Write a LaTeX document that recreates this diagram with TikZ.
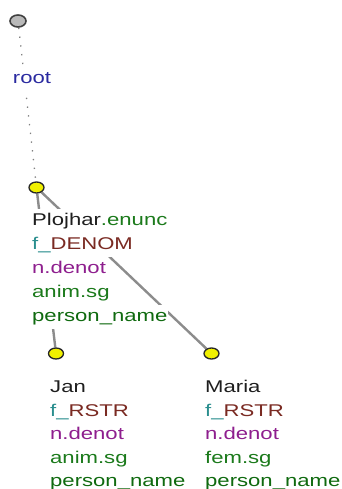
\documentclass[tikz,border=0pt]{standalone}
\usepackage{fontspec}
\newfontfamily\lbl{Liberation Sans}[FakeStretch=1.3]
\usetikzlibrary{shapes.geometric,backgrounds}
\definecolor{cblack}{HTML}{1E1E1E}
\definecolor{cgreen}{HTML}{1B7A1B}
\definecolor{cdgreen}{HTML}{0F6A0F}
\definecolor{cteal}{HTML}{2A8E8E}
\definecolor{cbrown}{HTML}{7A2A22}
\definecolor{cpurple}{HTML}{8E1E8E}
\definecolor{cblue}{HTML}{2A2AA0}
\definecolor{cyel}{HTML}{F0F000}
\definecolor{cedge}{HTML}{8C8C8C}
\begin{document}
\begin{tikzpicture}[x=1pt,y=-1pt,
  row/.style={anchor=base west, fill=white, inner xsep=1pt, inner ysep=0pt,
    text height=17pt, text depth=7pt, font=\lbl\fontsize{17}{20}\selectfont},
  ynode/.style={ellipse, draw=black!85, line width=1.3pt, fill=cyel,
    minimum width=15pt, minimum height=11pt, inner sep=0pt},
  rnode/.style={ellipse, draw=black!75, line width=1.6pt, fill=gray!55,
    minimum width=16pt, minimum height=12pt, inner sep=0pt},
  edge/.style={draw=cedge, line width=2.4pt},
  dotline/.style={draw=gray, line width=1.3pt, dash pattern=on 1.3pt off 7.5pt}
]
\useasboundingbox (0,0) rectangle (342,489);

% tree nodes
\node[rnode] (r) at (18,21) {};
\node[ynode] (pn) at (36.5,187.5) {};
\node[ynode] (jn) at (56,353.5) {};
\node[ynode] (mn) at (211.5,353.5) {};

% root label
\node[row, text=cblue] (rl) at (11.7,84) {root};

% Plojhar labels
\node[row] (p1) at (31,225.5) {{\color{cblack}Plojhar}{\color{cgreen}.enunc}};
\node[row] (p2) at (31,249.5) {{\color{cteal}f\_}{\color{cbrown}DENOM}};
\node[row, text=cpurple] (p3) at (31,273.5) {n.denot};
\node[row, text=cgreen] (p4) at (31,297.5) {anim.sg};
\node[row, text=cdgreen] (p5) at (31,321.5) {person\_name};

% Jan labels
\node[row, text=cblack] (j1) at (49,392.5) {Jan};
\node[row] (j2) at (49,416) {{\color{cteal}f\_}{\color{cbrown}RSTR}};
\node[row, text=cpurple] (j3) at (49,439.5) {n.denot};
\node[row, text=cgreen] (j4) at (49,463) {anim.sg};
\node[row, text=cdgreen] (j5) at (49,486.5) {person\_name};

% Maria labels
\node[row, text=cblack] (m1) at (204,392.5) {Maria};
\node[row] (m2) at (204,416) {{\color{cteal}f\_}{\color{cbrown}RSTR}};
\node[row, text=cpurple] (m3) at (204,439.5) {n.denot};
\node[row, text=cgreen] (m4) at (204,463) {fem.sg};
\node[row, text=cdgreen] (m5) at (204,486.5) {person\_name};

\begin{scope}[on background layer]
  \draw[dotline] (r) -- (pn);
  \draw[edge] (pn) -- (jn);
  \draw[edge] (pn) -- (mn);
\end{scope}
\end{tikzpicture}
\end{document}
